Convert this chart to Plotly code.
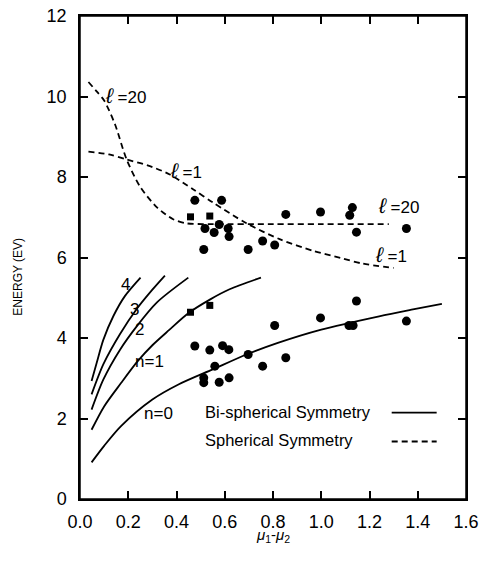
import plotly.graph_objects as go

# ---- data ----
# bi-spherical symmetry curves (solid)
n0_x = [0.048, 0.10, 0.17, 0.30, 0.41, 0.55, 0.69, 0.82, 1.00, 1.24, 1.38, 1.50]
n0_y = [0.91, 1.32, 1.81, 2.47, 2.85, 3.22, 3.59, 3.88, 4.21, 4.54, 4.71, 4.85]
n1_x = [0.048, 0.10, 0.17, 0.24, 0.30, 0.37, 0.45, 0.54, 0.62, 0.75]
n1_y = [1.72, 2.30, 2.88, 3.43, 3.82, 4.20, 4.62, 4.96, 5.21, 5.50]
n2_x = [0.048, 0.097, 0.166, 0.235, 0.318, 0.449]
n2_y = [2.22, 2.97, 3.71, 4.29, 4.88, 5.50]
n3_x = [0.048, 0.097, 0.166, 0.235, 0.30, 0.352]
n3_y = [2.60, 3.35, 4.10, 4.72, 5.20, 5.55]
n4_x = [0.048, 0.069, 0.097, 0.138, 0.186, 0.251]
n4_y = [2.93, 3.38, 3.96, 4.54, 5.04, 5.50]

# spherical symmetry curves (dashed)
l20_x = [0.035, 0.07, 0.10, 0.145, 0.193, 0.25, 0.32, 0.386, 0.44, 0.55, 0.80, 1.00, 1.28]
l20_y = [10.36, 10.12, 9.90, 9.31, 8.44, 7.75, 7.24, 6.95, 6.85, 6.83, 6.83, 6.83, 6.83]
l1_x = [0.035, 0.12, 0.19, 0.28, 0.37, 0.47, 0.55, 0.69, 0.83, 0.97, 1.08, 1.17, 1.30]
l1_y = [8.63, 8.56, 8.44, 8.29, 8.07, 7.69, 7.37, 6.85, 6.45, 6.16, 5.99, 5.85, 5.74]

# measured points (circles)
pts_x = [0.476, 0.587, 0.518, 0.556, 0.577, 0.614, 0.618, 0.513, 0.697, 0.757, 0.807,
         0.853, 0.997, 1.129, 1.118, 1.146, 1.353,
         0.807, 0.997, 1.146, 1.115, 1.132, 1.353, 0.476, 0.538, 0.591, 0.617, 0.697,
         0.853, 0.559, 0.757, 0.513, 0.513, 0.577, 0.618]
pts_y = [7.42, 7.42, 6.72, 6.62, 6.82, 6.72, 6.52, 6.20, 6.20, 6.41, 6.31,
         7.07, 7.13, 7.24, 7.05, 6.63, 6.72,
         4.31, 4.50, 4.92, 4.31, 4.31, 4.42, 3.80, 3.70, 3.81, 3.71, 3.59,
         3.51, 3.30, 3.30, 3.01, 2.89, 2.90, 3.01]
# measured points (squares)
sq_x = [0.458, 0.538, 0.458, 0.538]
sq_y = [7.01, 7.03, 4.64, 4.81]

x_ticks = [0.0, 0.2, 0.4, 0.6, 0.8, 1.0, 1.2, 1.4, 1.6]
y_ticks = [0, 2, 4, 6, 8, 10, 12]

ELL = "<span style='font-size:21px'><i>ℓ</i></span>"
# curve labels: (text, x, y)
labels = [
    (ELL + " =20", 0.19, 10.03),
    (ELL + " =1", 0.441, 8.15),
    (ELL + " =20", 1.319, 7.28),
    (ELL + " =1", 1.29, 6.08),
    ("4", 0.19, 5.34),
    ("3", 0.224, 4.70),
    ("2", 0.248, 4.22),
    ("n=1", 0.286, 3.42),
    ("n=0", 0.326, 2.12),
]

FONT = "Liberation Sans, Arial, Helvetica, sans-serif"

fig = go.Figure()
solid = dict(color="black", width=1.8, shape="spline", smoothing=0.8)
dashed = dict(color="black", width=1.8, dash="6px,4px", shape="spline", smoothing=0.8)
for xs, ys in [(n0_x, n0_y), (n1_x, n1_y), (n2_x, n2_y), (n3_x, n3_y), (n4_x, n4_y)]:
    fig.add_trace(go.Scatter(x=xs, y=ys, mode="lines", line=solid, showlegend=False, hoverinfo="skip"))
for xs, ys in [(l20_x, l20_y), (l1_x, l1_y)]:
    fig.add_trace(go.Scatter(x=xs, y=ys, mode="lines", line=dashed, showlegend=False, hoverinfo="skip"))

fig.add_trace(go.Scatter(x=pts_x, y=pts_y, mode="markers",
                         marker=dict(symbol="circle", size=9, color="black"), showlegend=False))
fig.add_trace(go.Scatter(x=sq_x, y=sq_y, mode="markers",
                         marker=dict(symbol="square", size=7, color="black"), showlegend=False))

for text, x, y in labels:
    fig.add_annotation(x=x, y=y, xref="x", yref="y", text=text, showarrow=False,
                       xanchor="center", yanchor="middle",
                       font=dict(family=FONT, size=17, color="black"))

# legend (text left, sample line right)
fig.add_annotation(x=0.319, y=0.1805, xref="paper", yref="paper", text="Bi-spherical Symmetry",
                   showarrow=False, xanchor="left", yanchor="middle",
                   font=dict(family=FONT, size=16.5, color="black"))
fig.add_annotation(x=0.319, y=0.1226, xref="paper", yref="paper", text="Spherical Symmetry",
                   showarrow=False, xanchor="left", yanchor="middle",
                   font=dict(family=FONT, size=16.5, color="black"))
fig.add_shape(type="line", xref="paper", yref="paper", x0=0.8075, x1=0.924, y0=0.179, y1=0.179,
              line=dict(color="black", width=1.8))
fig.add_shape(type="line", xref="paper", yref="paper", x0=0.8075, x1=0.924, y0=0.119, y1=0.119,
              line=dict(color="black", width=1.8, dash="6px,4px"))
# frame around the plotting area
fig.add_shape(type="rect", xref="paper", yref="paper", x0=0, x1=1, y0=0, y1=1,
              line=dict(color="black", width=1.5), fillcolor="rgba(0,0,0,0)", layer="above")

# axis titles
fig.add_annotation(x=-0.161, y=0.46, xref="paper", yref="paper", text="ENERGY (EV)",
                   textangle=-90, showarrow=False, xanchor="center", yanchor="middle",
                   font=dict(family=FONT, size=12, color="black"))
fig.add_annotation(x=0.5, y=-0.076, xref="paper", yref="paper",
                   text="<i>μ</i><sub>1</sub>-<i>μ</i><sub>2</sub>",
                   showarrow=False, xanchor="center", yanchor="middle",
                   font=dict(family=FONT, size=15, color="black"))

axis_common = dict(showline=True, linecolor="black", linewidth=1.5, mirror="ticks",
                   ticks="inside", ticklen=8, tickwidth=1.5, tickcolor="black",
                   showgrid=False, zeroline=False, automargin=False,
                   ticklabeloverflow="allow",
                   tickfont=dict(family=FONT, size=18, color="black"))
fig.update_xaxes(range=[0, 1.6], tickvals=x_ticks, ticktext=[f"{v:.1f}" for v in x_ticks],
                 ticklabelstandoff=6, **axis_common)
fig.update_yaxes(range=[0, 12], tickvals=y_ticks, ticktext=[str(v) for v in y_ticks],
                 ticklabelstandoff=8, **axis_common)

fig.update_layout(width=481, height=569, margin=dict(l=80, r=15, t=16, b=70, autoexpand=False),
                  plot_bgcolor="white", paper_bgcolor="white", showlegend=False)

# remove the default 8px page margin so the figure sits at the window's corner
fig.write_html("out.html", config={"displayModeBar": False},
               post_script="document.body.style.margin='0px';document.body.style.overflow='hidden';")
